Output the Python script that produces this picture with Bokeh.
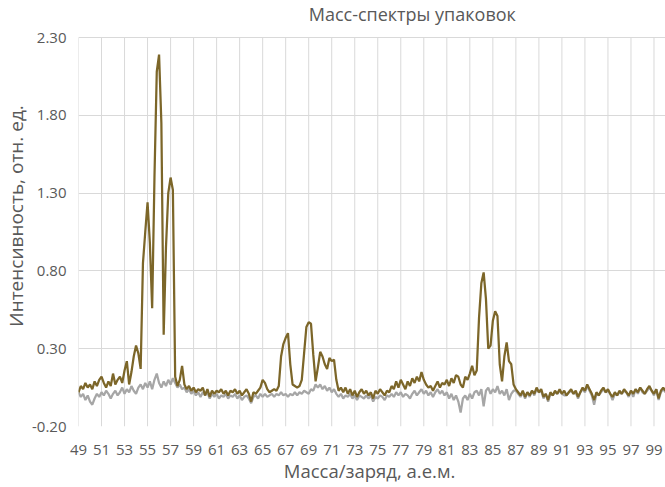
from bokeh.plotting import figure
from bokeh.models import Range1d, FixedTicker, NumeralTickFormatter, ColumnDataSource, Label
from bokeh.embed import file_html
from bokeh.resources import INLINE
import numpy as np

# m/z grid (a.e.m.), step 0.2
mz_start, mz_stop, mz_step = 49.0, 100.0, 0.2
mz = np.round(np.arange(mz_start, mz_stop + 0.001, mz_step), 1)

# Package 1 (brown) intensities, 5 points per a.e.m.
pack1 = [
    0.02, 0.06, 0.04, 0.08, 0.05,   # 49
    0.07, 0.04, 0.09, 0.06, 0.10,   # 50
    0.12, 0.08, 0.05, 0.09, 0.06,   # 51
    0.14, 0.07, 0.10, 0.12, 0.08,   # 52
    0.16, 0.22, 0.07, 0.15, 0.25,   # 53
    0.32, 0.27, 0.17, 0.85, 1.05,   # 54
    1.24, 0.98, 0.56, 1.40, 2.08,   # 55
    2.19, 1.75, 0.39, 0.95, 1.30,   # 56
    1.40, 1.32, 0.12, 0.06, 0.10,   # 57
    0.19, 0.07, 0.04, 0.06, 0.03,   # 58
    0.05, 0.02, 0.04, 0.03, 0.05,   # 59
    0.00, 0.04, -0.01, 0.03, 0.01,  # 60
    0.03, 0.02, 0.04, 0.01, 0.03,   # 61
    0.00, 0.03, 0.02, 0.04, 0.01,   # 62
    0.03, 0.00, 0.02, 0.04, 0.01,   # 63
    -0.04, 0.02, 0.01, 0.03, 0.05,  # 64
    0.10, 0.08, 0.04, 0.02, 0.03,   # 65
    0.04, 0.03, 0.06, 0.25, 0.33,   # 66
    0.37, 0.40, 0.20, 0.07, 0.06,   # 67
    0.05, 0.06, 0.10, 0.27, 0.44,   # 68
    0.47, 0.46, 0.26, 0.09, 0.18,   # 69
    0.28, 0.25, 0.20, 0.17, 0.24,   # 70
    0.22, 0.23, 0.10, 0.03, 0.05,   # 71
    0.02, 0.05, 0.01, 0.04, 0.00,   # 72
    0.03, -0.01, 0.02, 0.04, 0.01,  # 73
    0.03, 0.00, 0.02, -0.02, 0.03,  # 74
    0.01, 0.04, 0.02, 0.00, 0.03,   # 75
    0.02, 0.06, 0.04, 0.09, 0.05,   # 76
    0.10, 0.07, 0.04, 0.09, 0.06,   # 77
    0.11, 0.08, 0.12, 0.09, 0.15,   # 78
    0.10, 0.07, 0.05, 0.06, 0.03,   # 79
    0.06, 0.09, 0.05, 0.08, 0.07,   # 80
    0.10, 0.06, 0.11, 0.08, 0.13,   # 81
    0.12, 0.07, 0.05, 0.12, 0.10,   # 82
    0.14, 0.19, 0.13, 0.16, 0.50,   # 83
    0.72, 0.79, 0.62, 0.30, 0.32,   # 84
    0.48, 0.54, 0.51, 0.20, 0.09,   # 85
    0.25, 0.34, 0.22, 0.20, 0.07,   # 86
    0.04, 0.02, 0.00, 0.03, -0.01,  # 87
    0.02, 0.00, 0.03, 0.01, 0.05,   # 88
    0.02, 0.04, -0.01, 0.01, -0.03, # 89
    0.02, 0.00, 0.03, 0.01, 0.04,   # 90
    0.01, 0.03, 0.00, 0.02, 0.04,   # 91
    0.01, 0.03, -0.01, 0.02, 0.05,  # 92
    0.03, 0.07, 0.04, 0.01, -0.03,  # 93
    0.02, 0.00, 0.03, 0.05, 0.02,   # 94
    0.04, 0.01, -0.01, 0.02, 0.00,  # 95
    0.03, 0.01, 0.04, 0.02, 0.00,   # 96
    0.03, 0.01, 0.04, 0.02, 0.05,   # 97
    0.03, 0.01, 0.04, 0.06, 0.03,   # 98
    0.01, 0.04, -0.02, 0.03, 0.05,  # 99
    0.03,                           # 100
]

# Package 2 (grey) intensities
pack2 = [
    0.02, -0.01, 0.01, -0.03, 0.00,   # 49
    -0.04, -0.06, -0.02, 0.01, -0.01, # 50
    0.02, 0.00, 0.03, 0.01, -0.02,    # 51
    0.01, 0.03, 0.00, 0.02, 0.05,     # 52
    0.01, 0.04, 0.02, 0.06, 0.03,     # 53
    0.01, 0.05, 0.07, 0.04, 0.08,     # 54
    0.05, 0.09, 0.04, 0.10, 0.14,     # 55
    0.08, 0.05, 0.09, 0.06, 0.10,     # 56
    0.07, 0.11, 0.08, 0.05, 0.07,     # 57
    0.04, 0.05, 0.02, 0.04, 0.01,     # 58
    0.03, 0.00, 0.02, -0.01, 0.02,    # 59
    0.00, 0.02, -0.02, 0.01, -0.01,   # 60
    0.01, -0.02, 0.00, -0.01, 0.01,   # 61
    -0.02, 0.00, -0.01, 0.01, -0.02,  # 62
    0.00, -0.03, -0.01, 0.00, -0.02,  # 63
    -0.05, -0.01, 0.00, -0.02, 0.01,  # 64
    -0.01, 0.01, -0.01, 0.00, 0.01,   # 65
    -0.01, 0.01, 0.00, 0.02, 0.00,    # 66
    0.01, -0.01, 0.01, 0.00, 0.02,    # 67
    0.00, 0.02, 0.01, 0.03, 0.02,     # 68
    0.01, 0.04, 0.03, 0.07, 0.05,     # 69
    0.07, 0.04, 0.06, 0.03, 0.05,     # 70
    0.02, 0.04, 0.01, -0.01, 0.01,    # 71
    -0.02, 0.00, -0.01, 0.01, -0.02,  # 72
    0.00, -0.03, 0.00, -0.01, -0.02,  # 73
    0.00, -0.02, 0.00, -0.04, -0.01,  # 74
    -0.02, 0.00, -0.01, -0.03, 0.00,  # 75
    -0.01, 0.01, -0.01, 0.02, 0.00,   # 76
    0.02, -0.01, 0.01, 0.00, -0.02,   # 77
    0.01, 0.03, 0.00, 0.02, 0.04,     # 78
    0.01, 0.03, 0.00, 0.02, -0.01,    # 79
    0.02, 0.04, 0.01, 0.03, 0.00,     # 80
    0.02, -0.02, 0.01, -0.03, 0.00,   # 81
    -0.04, -0.11, -0.02, 0.00, -0.03, # 82
    0.01, -0.02, 0.02, 0.03, 0.00,    # 83
    0.04, -0.07, 0.03, 0.05, 0.01,    # 84
    0.04, 0.02, 0.06, 0.01, 0.03,     # 85
    0.00, 0.04, -0.03, 0.01, 0.03,    # 86
    0.03, 0.01, -0.01, 0.02, -0.02,   # 87
    0.02, -0.01, 0.03, 0.00, 0.04,    # 88
    0.02, 0.03, -0.02, 0.01, -0.04,   # 89
    0.01, 0.00, 0.02, 0.01, 0.03,     # 90
    0.01, 0.00, 0.00, 0.02, 0.03,     # 91
    0.01, 0.02, -0.02, 0.02, 0.04,    # 92
    0.02, 0.06, 0.03, 0.00, -0.06,    # 93
    0.01, 0.00, 0.02, 0.04, 0.02,     # 94
    0.03, 0.01, -0.03, 0.01, 0.00,    # 95
    0.02, 0.01, 0.03, 0.02, -0.01,    # 96
    0.03, -0.01, 0.04, 0.01, 0.05,    # 97
    0.02, 0.01, 0.03, 0.05, 0.03,     # 98
    0.00, 0.04, -0.03, 0.02, 0.04,    # 99
    0.02,                             # 100
]

x_ticks = list(range(49, 100, 2))
y_ticks = [-0.2, 0.3, 0.8, 1.3, 1.8, 2.3]
y_min, y_max = -0.2, 2.3

title_text = "Масс-спектры упаковок"
x_label = "Масса/заряд,  а.е.м."
y_label = "Интенсивность, отн.  ед."

FONT = "Open Sans"
TXT = "#595959"
GRID = "#D9D9D9"

W, H = 665, 487
BL, BB = 77, 61
PLOT_TOP_PX = 37                      # pixel row of the 2.30 gridline
FRAME_H = H - BB                      # frame starts at the very top
PX_PER_UNIT = (FRAME_H - PLOT_TOP_PX) / (y_max - y_min)
y_top = y_max + PLOT_TOP_PX / PX_PER_UNIT   # headroom for the title

src = ColumnDataSource(dict(mz=mz, p1=pack1, p2=pack2))

p = figure(width=W, height=H, output_backend="svg", toolbar_location=None,
           x_range=Range1d(49, 100), y_range=Range1d(y_min, y_top),
           min_border_left=BL, min_border_right=0, min_border_top=0, min_border_bottom=BB)

p.outline_line_color = None
p.background_fill_color = "white"
p.border_fill_color = "white"

p.xaxis.ticker = FixedTicker(ticks=x_ticks)
p.yaxis.ticker = FixedTicker(ticks=y_ticks)
p.yaxis.formatter = NumeralTickFormatter(format="0.00")

for ax in (p.xaxis[0], p.yaxis[0]):
    ax.axis_line_color = None
    ax.major_tick_line_color = None
    ax.minor_tick_line_color = None
    ax.major_tick_out = 0
    ax.major_tick_in = 0
    ax.major_label_text_font = FONT
    ax.major_label_text_font_size = "15px"
    ax.major_label_text_color = TXT
    ax.axis_label_text_font = FONT
    ax.axis_label_text_font_style = "normal"
    ax.axis_label_text_color = TXT

p.xaxis.axis_label = x_label
p.yaxis.axis_label = y_label
p.xaxis.axis_label_text_font_size = "18.5px"
p.yaxis.axis_label_text_font_size = "19px"
p.xaxis.major_label_standoff = 18
p.xaxis.axis_label_standoff = 0
p.yaxis.major_label_standoff = 12
p.yaxis.axis_label_standoff = 0

# horizontal gridlines from the axis ticker; vertical ones stop at the 2.30 line
p.ygrid.ticker = FixedTicker(ticks=y_ticks)
p.ygrid.grid_line_color = GRID
p.ygrid.grid_line_width = 1
p.xgrid.visible = False
p.segment(x0=x_ticks, y0=[y_min] * len(x_ticks), x1=x_ticks, y1=[y_max] * len(x_ticks),
          line_color=GRID, line_width=1)

p.line("mz", "p2", source=src, line_color="#A6A6A6", line_width=2.25)
p.line("mz", "p1", source=src, line_color="#7C6629", line_width=2.25)

# chart title at the top edge of the picture
title = Label(x=69, y=y_top - 1 / PX_PER_UNIT,
              text=title_text, text_font=FONT, text_font_size="18px",
              text_color=TXT, text_align="left", text_baseline="top")
p.add_layout(title)

open("out.html", "w").write(file_html(p, INLINE))
